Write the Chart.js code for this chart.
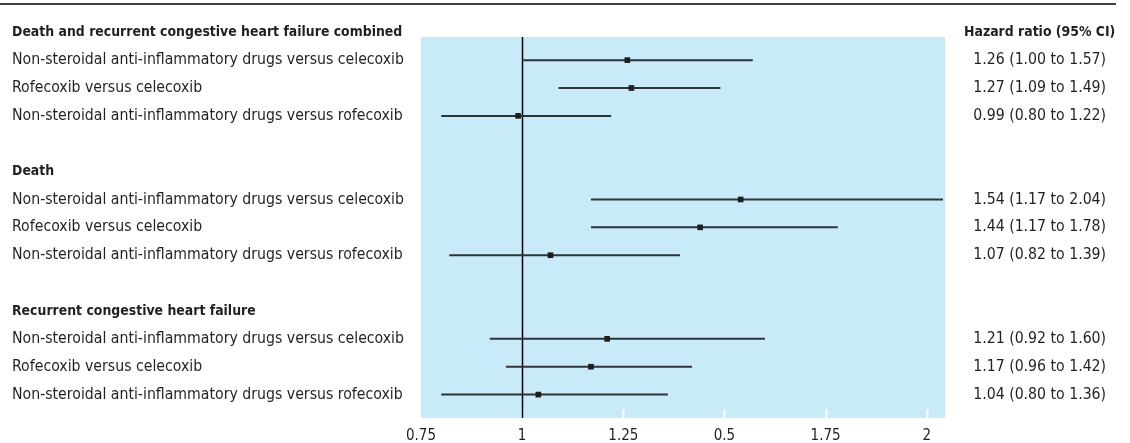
<!DOCTYPE html>
<html lang="en">
<head>
    <meta charset="UTF-8">
    <title>Hazard ratios - forest plot</title>
    <script src="https://cdn.jsdelivr.net/npm/chart.js"></script>
    <style>
        body { margin: 0; background: #fff; }
        #wrap { position: relative; width: 1130px; height: 443px; }
    </style>
</head>
<body>
    <div id="wrap"><canvas id="forestChart"></canvas></div>

    <script>
        // row labels, top to bottom (blank rows separate the groups)
        const rowLabels = [
            'Death and recurrent congestive heart failure combined',
            'Non-steroidal anti-inflammatory drugs versus celecoxib',
            'Rofecoxib versus celecoxib',
            'Non-steroidal anti-inflammatory drugs versus rofecoxib',
            '',
            'Death',
            'Non-steroidal anti-inflammatory drugs versus celecoxib',
            'Rofecoxib versus celecoxib',
            'Non-steroidal anti-inflammatory drugs versus rofecoxib',
            '',
            'Recurrent congestive heart failure',
            'Non-steroidal anti-inflammatory drugs versus celecoxib',
            'Rofecoxib versus celecoxib',
            'Non-steroidal anti-inflammatory drugs versus rofecoxib'
        ];
        const headerRows = [0, 5, 10];

        // estimates, one per comparison row
        const dataRows = [1, 2, 3, 6, 7, 8, 11, 12, 13];
        const hazardRatio = [1.26, 1.27, 0.99, 1.54, 1.44, 1.07, 1.21, 1.17, 1.04];
        const ciLower = [1.00, 1.09, 0.80, 1.17, 1.17, 0.82, 0.92, 0.96, 0.80];
        const ciUpper = [1.57, 1.49, 1.22, 2.04, 1.78, 1.39, 1.60, 1.42, 1.36];

        // x axis ticks as printed (the 1.5 tick is labelled "0.5" in the original)
        const tickValues = [0.75, 1, 1.25, 1.5, 1.75, 2];
        const tickLabels = ['0.75', '1', '1.25', '0.5', '1.75', '2'];

        const rightHeader = 'Hazard ratio (95% CI)';
        const fmt = v => v.toFixed(2);
        const rightLabels = rowLabels.map(() => '');
        rightLabels[0] = rightHeader;
        dataRows.forEach((r, i) => {
            rightLabels[r] = fmt(hazardRatio[i]) + ' (' + fmt(ciLower[i]) + ' to ' + fmt(ciUpper[i]) + ')';
        });

        const FONT = "'DejaVu Sans Condensed', 'Liberation Sans Narrow', sans-serif";
        const TEXT = '#231f20';
        const FS = 15.7;      // row text
        const FS_HEAD = 13.9; // bold group headings (the bold face runs wide)

        // CI whiskers, one little line dataset each
        const whiskerSets = dataRows.map((r, i) => ({
            type: 'line',
            data: [{ x: ciLower[i], y: r }, { x: ciUpper[i], y: r }],
            borderColor: '#2e3438',
            borderWidth: 2,
            pointRadius: 0,
            showLine: true,
            order: 2
        }));

        const pointSet = {
            type: 'scatter',
            data: dataRows.map((r, i) => ({ x: hazardRatio[i], y: r })),
            pointStyle: 'rect',
            pointRadius: 4,
            backgroundColor: '#1e1e1e',
            borderColor: '#1e1e1e',
            borderWidth: 0,
            order: 1
        };

        // light blue panel, reference line at 1, white ticks and top rule
        const decor = {
            id: 'decor',
            beforeDatasetsDraw(chart) {
                const { ctx, chartArea: a, scales: { x } } = chart;
                ctx.save();
                ctx.fillStyle = '#c8eaf9';
                ctx.fillRect(a.left, a.top, a.right - a.left, a.bottom - a.top);
                ctx.strokeStyle = '#ffffff';
                ctx.lineWidth = 2;
                tickValues.slice(1).forEach(v => {
                    const px = Math.round(x.getPixelForValue(v)) + 0.5;
                    ctx.beginPath();
                    ctx.moveTo(px, a.bottom);
                    ctx.lineTo(px, a.bottom - 9);
                    ctx.stroke();
                });
                const x1 = Math.round(x.getPixelForValue(1)) + 0.5;
                ctx.strokeStyle = '#000';
                ctx.lineWidth = 1.5;
                ctx.beginPath();
                ctx.moveTo(x1, a.top);
                ctx.lineTo(x1, a.bottom);
                ctx.stroke();
                ctx.lineWidth = 1.5;
                ctx.beginPath();
                ctx.moveTo(0, 4);
                ctx.lineTo(1116, 4);
                ctx.stroke();
                ctx.restore();
            }
        };

        const rowFont = ctx => {
            const head = ctx.tick && headerRows.includes(ctx.tick.value);
            return { family: FONT, size: head ? FS_HEAD : FS, weight: head ? 'bold' : 'normal' };
        };

        const rowTicks = scale => {
            scale.ticks = rowLabels.map((_, i) => ({ value: i }));
        };

        // fixed width, and no extra end padding for the row labels
        const fitRows = w => scale => {
            scale.width = w;
            scale.paddingTop = 0;
            scale.paddingBottom = 0;
        };

        const Y_MIN = 0.17;
        const Y_MAX = 13.84;

        new Chart(document.getElementById('forestChart'), {
            data: { datasets: [...whiskerSets, pointSet] },
            plugins: [decor],
            options: {
                responsive: true,
                maintainAspectRatio: false,
                animation: false,
                layout: { padding: { left: 12, right: 0, top: 37, bottom: 0 } },
                plugins: { legend: { display: false }, tooltip: { enabled: false } },
                scales: {
                    x: {
                        type: 'linear',
                        min: 0.75,
                        max: 2.045,
                        afterBuildTicks: scale => { scale.ticks = tickValues.map(v => ({ value: v })); },
                        afterFit: scale => { scale.height = 25; },
                        grid: { display: false },
                        border: { display: false },
                        ticks: {
                            padding: 1,
                            color: TEXT,
                            font: { family: FONT, size: 15 },
                            callback: (v, i) => tickLabels[i]
                        }
                    },
                    y: {
                        type: 'linear',
                        position: 'left',
                        reverse: true,
                        min: Y_MIN,
                        max: Y_MAX,
                        afterBuildTicks: rowTicks,
                        afterFit: fitRows(409),
                        grid: { display: false },
                        border: { display: false },
                        ticks: {
                            crossAlign: 'far',
                            color: TEXT,
                            font: rowFont,
                            callback: (v, i) => rowLabels[i]
                        }
                    },
                    y2: {
                        type: 'linear',
                        position: 'right',
                        reverse: true,
                        min: Y_MIN,
                        max: Y_MAX,
                        afterBuildTicks: rowTicks,
                        afterFit: fitRows(185),
                        grid: { display: false },
                        border: { display: false },
                        ticks: {
                            crossAlign: 'center',
                            padding: 11,
                            color: TEXT,
                            font: rowFont,
                            callback: (v, i) => rightLabels[i]
                        }
                    }
                }
            }
        });
    </script>
</body>
</html>
